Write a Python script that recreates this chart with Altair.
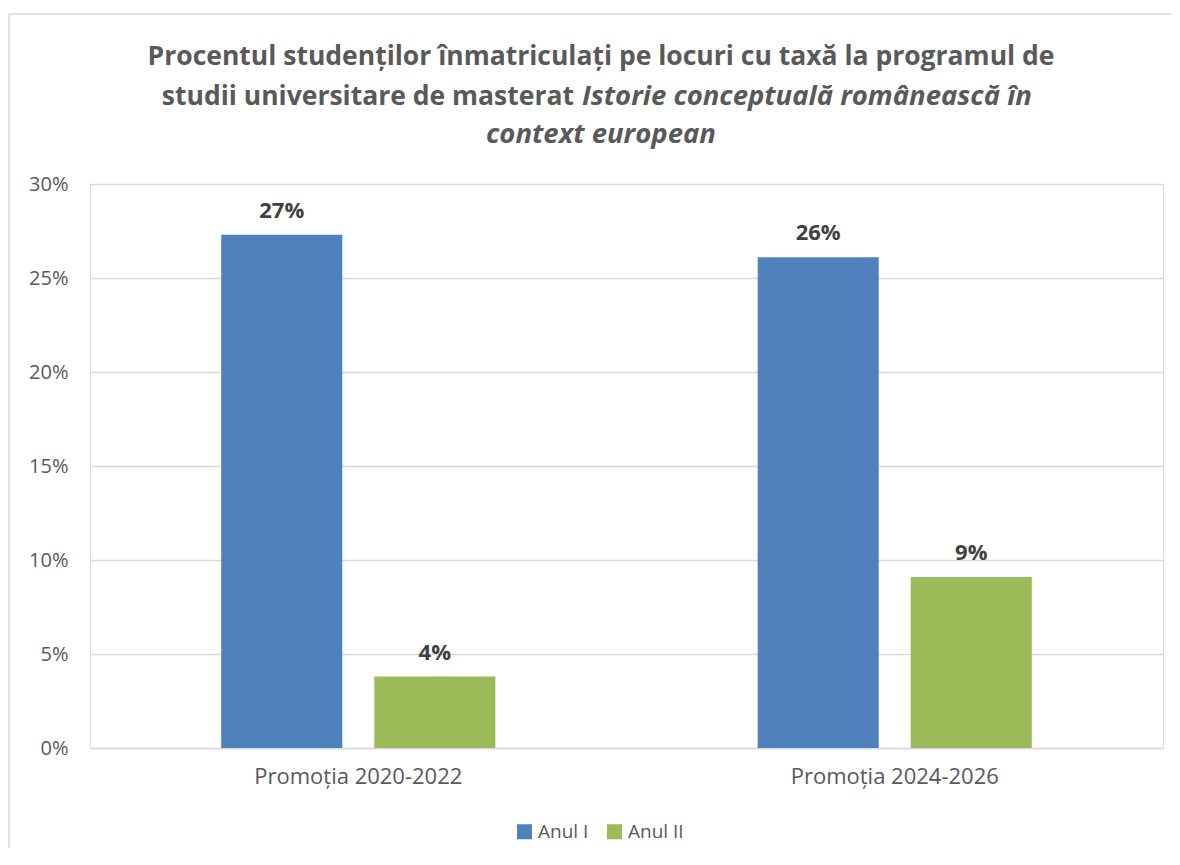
import altair as alt
import pandas as pd

categories = ["Promoția 2020-2022", "Promoția 2024-2026"]
series = ["Anul I", "Anul II"]
anul_1 = [0.273, 0.261]
anul_2 = [0.038, 0.091]
colors = ["#4F81BD", "#9BBB59"]

rows = []
for i, c in enumerate(categories):
    rows.append({"cat": c, "serie": series[0], "val": anul_1[i]})
    rows.append({"cat": c, "serie": series[1], "val": anul_2[i]})
df = pd.DataFrame(rows)

FONT = "Open Sans"
W, H = 1073, 564

x_enc = alt.X("cat:N", sort=categories, title=None,
              scale=alt.Scale(paddingInner=0.489, paddingOuter=0.2446),
              axis=alt.Axis(labelAngle=0, labelFontSize=22, labelColor="#595959",
                            labelFont=FONT, labelPadding=18, ticks=False, labelLimit=500,
                            domainColor="#d9d9d9", domainWidth=1.3, grid=False))
xo_enc = alt.XOffset("serie:N", sort=series,
                     scale=alt.Scale(paddingInner=0.209, paddingOuter=0))
y_enc = alt.Y("val:Q", title=None,
              scale=alt.Scale(domain=[0, 0.3], nice=False),
              axis=alt.Axis(values=[0, 0.05, 0.1, 0.15, 0.2, 0.25, 0.3], format=".0%",
                            labelFontSize=20, labelColor="#595959", labelFont=FONT,
                            labelPadding=22, ticks=False, domain=False,
                            gridColor="#d9d9d9", gridWidth=1.3))

bars = alt.Chart(df).mark_bar().encode(
    x=x_enc, xOffset=xo_enc, y=y_enc,
    color=alt.Color("serie:N", sort=series,
                    scale=alt.Scale(domain=series, range=colors),
                    legend=alt.Legend(title=None, orient="none", legendX=425, legendY=638,
                                      direction="horizontal", symbolType="square",
                                      symbolSize=225, symbolStrokeWidth=0,
                                      labelFontSize=19, labelColor="#595959", labelFont=FONT,
                                      labelOffset=4, columnPadding=16)))

labels = alt.Chart(df).mark_text(baseline="bottom", dy=-12, fontSize=22, fontWeight="bold",
                                 color="#404040", font=FONT).encode(
    x=alt.X("cat:N", sort=categories), xOffset=alt.XOffset("serie:N", sort=series),
    y="val:Q", text=alt.Text("val:Q", format=".0%"))

title_color = "#595959"
TS = 26.5
t1 = alt.Chart(pd.DataFrame({"t": ["Procentul studenților înmatriculați pe locuri cu taxă la programul de"]})).mark_text(
    fontSize=TS, fontWeight="bold", color=title_color, font=FONT, align="center", baseline="middle").encode(
    text="t:N", x=alt.value(511), y=alt.value(-127))
t2a = alt.Chart(pd.DataFrame({"t": ["studii universitare de masterat"]})).mark_text(
    fontSize=TS, fontWeight="bold", color=title_color, font=FONT, align="right", baseline="middle").encode(
    text="t:N", x=alt.value(484), y=alt.value(-87))
t2b = alt.Chart(pd.DataFrame({"t": ["Istorie conceptuală românească în"]})).mark_text(
    fontSize=27.5, fontWeight="bold", fontStyle="italic", color=title_color, font=FONT,
    align="left", baseline="middle").encode(
    text="t:N", x=alt.value(492), y=alt.value(-87))
t3 = alt.Chart(pd.DataFrame({"t": ["context european"]})).mark_text(
    fontSize=27.5, fontWeight="bold", fontStyle="italic", color=title_color, font=FONT,
    align="center", baseline="middle").encode(
    text="t:N", x=alt.value(511), y=alt.value(-49))

border_df = pd.DataFrame({"k": [1]})
top_line = alt.Chart(border_df).mark_rule(color="#d9d9d9", strokeWidth=1.5).encode(
    x=alt.value(-81), x2=alt.value(1082), y=alt.value(-170))
left_line = alt.Chart(border_df).mark_rule(color="#d9d9d9", strokeWidth=1.5).encode(
    x=alt.value(-81), y=alt.value(-170), y2=alt.value(690))

chart = alt.layer(top_line, left_line, bars, labels, t1, t2a, t2b, t3).properties(
    width=W, height=H,
    autosize=alt.AutoSizeParams(type="none"),
    padding={"left": 82, "top": 176, "right": 9, "bottom": 100},
).configure_view(stroke=None).configure(background="white")

chart.save("out.html", embed_options={"renderer": "svg", "actions": False})
